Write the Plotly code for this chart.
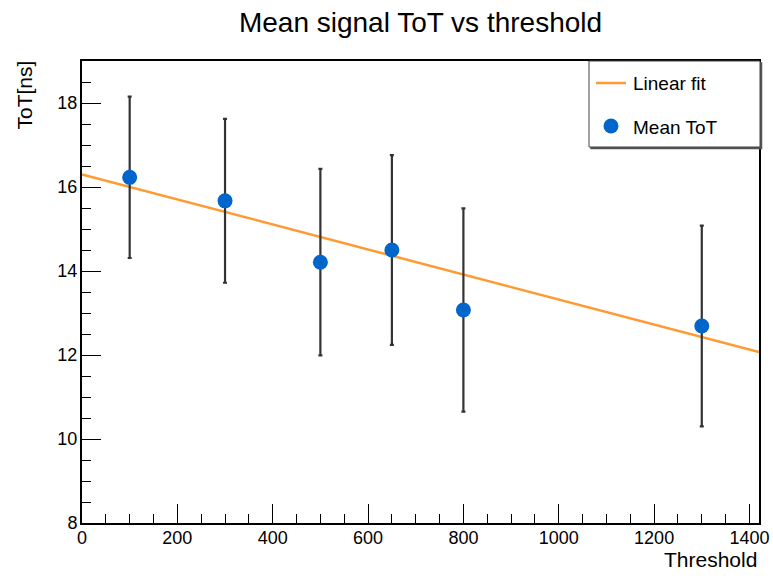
import numpy as np
import plotly.graph_objects as go

# Measured mean time-over-threshold at each threshold setting
threshold = [100, 300, 500, 650, 800, 1300]
mean_tot = [16.23, 15.67, 14.21, 14.50, 13.07, 12.69]
tot_err = [1.92, 1.95, 2.22, 2.26, 2.42, 2.39]

# Linear fit parameters: ToT = p0 + p1 * threshold
fit_p0 = 16.30
fit_p1 = -0.00298

x_range = [0, 1420]
y_range = [8, 19]

# Plot frame in pixels (figure is 773 x 576)
L, R, T, B = 82, 759, 61, 523
W, H = 773, 576


def px(x):
    return (x - L) / (R - L)


def py(y):
    return (B - y) / (B - T)


FONT = "Liberation Sans, Arial, Helvetica, sans-serif"
BLUE = "#0066cc"
ORANGE = "#ff9a33"

fit_x = np.array(x_range, dtype=float)
fit_y = fit_p0 + fit_p1 * fit_x

fig = go.Figure()
fig.add_trace(go.Scatter(
    x=fit_x, y=fit_y, mode="lines",
    line=dict(color=ORANGE, width=2.5),
    name="Linear fit", showlegend=False, hoverinfo="skip",
))
fig.add_trace(go.Scatter(
    x=threshold, y=mean_tot, mode="markers",
    marker=dict(color=BLUE, size=15, line=dict(width=0)),
    error_y=dict(type="data", array=tot_err, visible=True,
                 color="#333333", thickness=2.2, width=2),
    name="Mean ToT", showlegend=False,
))

axis_common = dict(
    showgrid=False, zeroline=False,
    showline=True, linecolor="black", linewidth=2, mirror=True,
    ticks="inside", ticklen=19, tickwidth=1.3, tickcolor="black",
    tickfont=dict(family=FONT, size=18, color="black"),
)

fig.update_xaxes(
    range=x_range, tick0=0, dtick=200,
    minor=dict(ticks="inside", ticklen=9, dtick=50, tickcolor="black", tickwidth=1.3),
    ticklabelstandoff=-3,
    **axis_common,
)
fig.update_yaxes(
    range=y_range, tick0=8, dtick=2,
    minor=dict(ticks="inside", ticklen=9, dtick=0.5, tickcolor="black", tickwidth=1.3),
    ticklabelstandoff=-1,
    **axis_common,
)

# Legend box drawn as shapes + text
shapes = [
    dict(type="rect", xref="paper", yref="paper",
         x0=px(591), x1=px(761.5), y0=py(148.5), y1=py(63),
         line=dict(color="#555555", width=1.5), fillcolor="#555555", layer="above"),
    dict(type="rect", xref="paper", yref="paper",
         x0=px(589), x1=px(760), y0=py(147), y1=py(61),
         line=dict(color="#444444", width=1), fillcolor="white", layer="above"),
    dict(type="line", xref="paper", yref="paper",
         x0=px(596), x1=px(626), y0=py(83), y1=py(83),
         line=dict(color=ORANGE, width=2.5), layer="above"),
    dict(type="circle", xref="paper", yref="paper",
         x0=px(611 - 7.5), x1=px(611 + 7.5), y0=py(126 + 7.5), y1=py(126 - 7.5),
         line=dict(width=0), fillcolor=BLUE, layer="above"),
]

annotations = [
    dict(text="Linear fit", xref="paper", yref="paper", x=px(631), y=py(83),
         xanchor="left", yanchor="middle", showarrow=False,
         font=dict(family=FONT, size=19, color="black")),
    dict(text="Mean ToT", xref="paper", yref="paper", x=px(631), y=py(127),
         xanchor="left", yanchor="middle", showarrow=False,
         font=dict(family=FONT, size=19, color="black")),
    dict(text="ToT[ns]", xref="paper", yref="paper", x=px(24), y=py(59),
         xanchor="center", yanchor="top", textangle=-90, showarrow=False,
         font=dict(family=FONT, size=21, color="black")),
    dict(text="Threshold", xref="paper", yref="paper", x=px(759), y=py(559),
         xanchor="right", yanchor="middle", showarrow=False,
         font=dict(family=FONT, size=21, color="black")),
]

fig.update_layout(
    width=W, height=H, autosize=False,
    margin=dict(l=L, r=W - R, t=T, b=H - B, pad=0, autoexpand=False),
    paper_bgcolor="white", plot_bgcolor="white",
    title=dict(text="Mean signal ToT vs threshold", x=0.5, xref="paper",
               xanchor="center", y=1 - 22 / H, yref="container", yanchor="middle",
               font=dict(family=FONT, size=28, color="black")),
    shapes=shapes, annotations=annotations,
    showlegend=False,
)

fig.write_html("out.html", config={"responsive": False, "displayModeBar": False})
